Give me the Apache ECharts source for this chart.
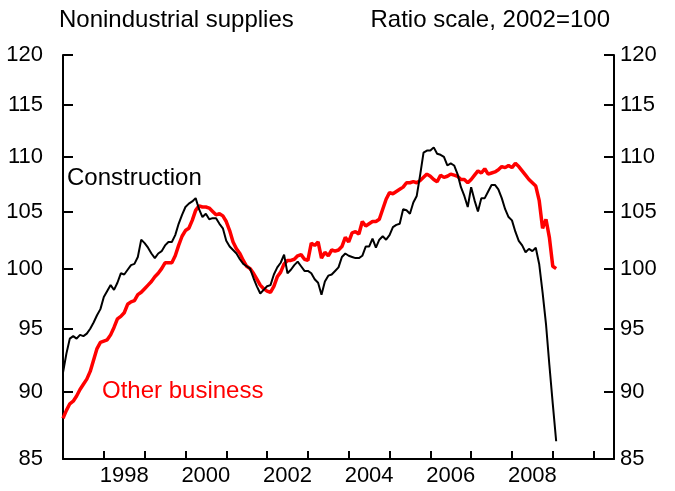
<!DOCTYPE html>
<html>
<head>
<meta charset="utf-8">
<title>Nonindustrial supplies</title>
<script src="https://cdn.jsdelivr.net/npm/echarts@6/dist/echarts.min.js"></script>
<style>
  html, body { margin: 0; padding: 0; background: #fff; }
  #chart { width: 675px; height: 491px; }
</style>
</head>
<body>
<div id="chart"></div>
<script>
// monthly index values, Jan 1997 onward (2002=100)
var startYear = 1997;
var construction = [
  91.5, 93.0, 94.2, 94.4, 94.2, 94.5, 94.4, 94.6, 95.0, 95.5, 96.1, 96.6,
  97.6, 98.1, 98.6, 98.2, 98.8, 99.6, 99.5, 99.9, 100.3, 100.4, 101.0, 102.5,
  102.2, 101.8, 101.3, 100.9, 101.3, 101.5, 102.0, 102.3, 102.3, 102.9, 103.9, 104.7,
  105.4, 105.7, 105.9, 106.2, 105.2, 104.5, 104.8, 104.3, 104.4, 104.4, 103.9, 103.5,
  102.4, 101.9, 101.6, 101.3, 100.8, 100.4, 100.2, 100.0, 99.2, 98.5, 97.9, 98.2,
  98.5, 98.6, 99.5, 100.1, 100.5, 101.2, 99.6, 99.9, 100.3, 100.6, 100.2, 99.8,
  99.8, 99.6, 99.1, 98.8, 97.8, 98.9, 99.4, 99.5, 99.8, 100.1, 101.0, 101.3,
  101.1, 101.0, 100.9, 100.9, 101.1, 101.9, 101.9, 102.6, 101.8, 102.5, 102.8, 102.5,
  102.9, 103.6, 103.8, 103.9, 105.2, 105.1, 104.8, 105.8, 106.4, 108.3, 110.4, 110.6,
  110.6, 110.9, 110.3, 110.2, 110.0, 109.2, 109.4, 109.2, 108.4, 107.2, 106.4, 105.4,
  107.2, 106.0, 105.0, 106.2, 106.2, 106.8, 107.4, 107.4, 107.0, 106.2, 105.2, 104.5,
  104.2, 103.2, 102.4, 102.0, 101.4, 101.7, 101.5, 101.8, 100.4, 98.0, 95.4, 92.1,
  89.1, 86.3
];
var otherBusiness = [
  88.0, 88.6, 89.1, 89.3, 89.7, 90.2, 90.6, 91.0, 91.6, 92.5, 93.4, 93.9,
  94.0, 94.1, 94.5, 95.1, 95.8, 96.0, 96.3, 97.0, 97.2, 97.3, 97.8, 98.0,
  98.3, 98.6, 98.9, 99.3, 99.6, 100.0, 100.5, 100.5, 100.5, 101.1, 102.0, 102.8,
  103.3, 103.5, 104.2, 105.1, 105.5, 105.4, 105.4, 105.3, 105.0, 104.7, 104.8, 104.6,
  104.1, 103.3, 102.3, 101.7, 101.3, 100.7, 100.2, 100.0, 99.6, 99.1, 98.6, 98.3,
  98.1, 98.0, 98.5, 99.3, 99.7, 100.4, 100.7, 100.7, 100.8, 101.1, 101.2, 100.8,
  100.7, 102.2, 102.0, 102.3, 100.9, 101.4, 101.1, 101.6, 101.5, 101.6, 101.9, 102.7,
  102.3, 103.1, 103.2, 103.0, 104.1, 103.7, 103.9, 104.1, 104.1, 104.3, 105.2, 106.1,
  106.7, 106.6, 106.8, 107.0, 107.2, 107.6, 107.6, 107.7, 107.6, 107.8, 108.1, 108.4,
  108.2, 107.9, 107.7, 108.3, 108.1, 108.2, 108.4, 108.3, 108.2, 107.9, 107.9, 107.6,
  107.9, 108.3, 108.7, 108.5, 108.9, 108.4, 108.5, 108.6, 108.8, 109.1, 109.0, 109.2,
  109.0, 109.4, 109.1, 108.7, 108.3, 107.9, 107.6, 107.3, 106.0, 103.5, 104.3, 102.7,
  100.2, 100.0
];
var yTicks = [85, 90, 95, 100, 105, 110, 115, 120];
var xTickYears = [1998, 1999, 2000, 2001, 2002, 2003, 2004, 2005, 2006, 2007, 2008, 2009, 2010];
var xLabelYears = [1998, 2000, 2002, 2004, 2006, 2008];

var font = "'Liberation Sans', Arial, sans-serif";

// ratio scale: plot the log of the index on a plain value axis
var toSeries = function (values) {
  return values.map(function (v, i) {
    return [startYear + i / 12, Math.log(v)];
  });
};
var logTicks = yTicks.map(function (v) { return Math.log(v); });

var yAxisBase = function (position, margin) {
  return {
    type: "value",
    position: position,
    min: Math.log(yTicks[0]),
    max: Math.log(yTicks[yTicks.length - 1]),
    splitLine: { show: false },
    axisLine: { show: true, onZero: false, lineStyle: { color: "#000", width: 2 } },
    axisTick: {
      show: true,
      inside: true,
      length: 10,
      customValues: logTicks,
      lineStyle: { color: "#000", width: 2 },
    },
    axisLabel: {
      customValues: logTicks,
      margin: margin,
      color: "#000",
      fontSize: 22,
      fontFamily: font,
      formatter: function (v) { return Math.round(Math.exp(v)); },
    },
  };
};

var myChart = echarts.init(document.getElementById("chart"), null, { renderer: "canvas" });

var option = {
  animation: false,
  backgroundColor: "#fff",
  grid: { left: 63, right: 61, top: 55, bottom: 32, outerBoundsMode: "none" },
  xAxis: {
    type: "value",
    min: startYear,
    max: 2010.5,
    splitLine: { show: false },
    axisLine: { show: true, onZero: false, lineStyle: { color: "#000", width: 2 } },
    axisTick: {
      show: true,
      inside: true,
      length: 8,
      customValues: xTickYears,
      lineStyle: { color: "#000", width: 2 },
    },
    axisLabel: {
      customValues: xLabelYears.map(function (y) { return y + 0.5; }),
      margin: 6,
      color: "#000",
      fontSize: 22,
      fontFamily: font,
      formatter: function (v) { return Math.floor(v); },
    },
  },
  yAxis: [yAxisBase("left", 20), yAxisBase("right", 6)],
  graphic: [
    {
      type: "text", x: 59, y: 20,
      style: { text: "Nonindustrial supplies", font: "24px " + font, fill: "#000", align: "left", verticalAlign: "middle" },
    },
    {
      type: "text", x: 610, y: 20,
      style: { text: "Ratio scale, 2002=100", font: "24px " + font, fill: "#000", align: "right", verticalAlign: "middle" },
    },
    {
      type: "text", x: 67, y: 178,
      style: { text: "Construction", font: "24px " + font, fill: "#000", align: "left", verticalAlign: "middle" },
    },
    {
      type: "text", x: 102, y: 391,
      style: { text: "Other business", font: "24px " + font, fill: "#ff0000", align: "left", verticalAlign: "middle" },
    },
  ],
  series: [
    {
      name: "Other business",
      type: "line",
      data: toSeries(otherBusiness),
      showSymbol: false,
      lineStyle: { color: "#ff0000", width: 3.5 },
      itemStyle: { color: "#ff0000" },
    },
    {
      name: "Construction",
      type: "line",
      data: toSeries(construction),
      showSymbol: false,
      lineStyle: { color: "#000", width: 2 },
      itemStyle: { color: "#000" },
    },
  ],
};

myChart.setOption(option);
window.addEventListener("resize", function () {
  myChart.resize();
});
</script>
</body>
</html>
